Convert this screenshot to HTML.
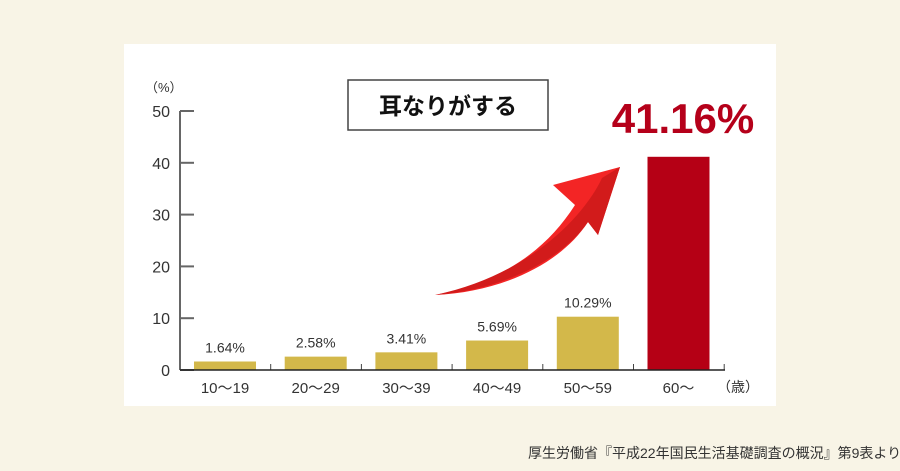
<!DOCTYPE html>
<html><head><meta charset="utf-8"><style>
body{margin:0;width:900px;height:471px;background:#f8f4e6;overflow:hidden;font-family:"Liberation Sans","Noto Sans CJK JP",sans-serif}
</style></head><body>
<svg width="900" height="471" style="position:absolute;left:0;top:0" font-family="Liberation Sans, Noto Sans CJK JP, sans-serif">
<rect x="124" y="44" width="652" height="362" fill="#fff"/>
<rect x="348" y="80" width="200" height="50" fill="#fff" stroke="#444" stroke-width="1.5"/>
<text x="448" y="114" text-anchor="middle" font-size="23" font-weight="bold" fill="#111">耳なりがする</text>
<text x="145" y="92" font-size="13" fill="#333">（%）</text>
<text x="738" y="392" text-anchor="middle" font-size="14" fill="#333">（歳）</text>
<path d="M435,295 C500,282 545,252 575,205 L553,185 L620,167 L598,235 L588,222 C560,265 500,292 435,295 Z" fill="#f32525"/>
<path d="M435,295 C500,290 560,262 588,222 L598,235 L620,167 L602,178 C585,215 530,275 435,295 Z" fill="#d21b1b"/>
<g id="g"></g>
<text x="683" y="133" text-anchor="middle" font-size="42" font-weight="bold" fill="#b5001a">41.16%</text>
<text x="528" y="458" font-size="14" fill="#333">厚生労働省『平成22年国民生活基礎調査の概況』第9表より</text>
</svg>
<script>
const categories=["10〜19","20〜29","30〜39","40〜49","50〜59","60〜"];
const values=[1.64,2.58,3.41,5.69,10.29,41.16];
const valueLabels=["1.64%","2.58%","3.41%","5.69%","10.29%",""];
const yTicks=[0,10,20,30,40,50];
const g=document.getElementById('g');const NS='http://www.w3.org/2000/svg';
const y0=370,y50=111,x0=180,step=90.7;
function y(v){return y0-(v/50)*(y0-y50);}
function xc(i){return x0+45+i*step;}
function mk(t,a){const e=document.createElementNS(NS,t);for(const k in a)e.setAttribute(k,a[k]);g.appendChild(e);return e;}
let ax=mk('line',{x1:x0,y1:y50,x2:x0,y2:y0,stroke:'#666','stroke-width':2});


yTicks.forEach(t=>{
 const l=mk('line',{x1:x0,x2:x0+14,y1:y(t),y2:y(t),stroke:'#666','stroke-width':2});
 
 
 const tx=mk('text',{x:x0-10,y:y(t)+6,'text-anchor':'end','font-size':16,fill:'#333'});tx.textContent=t;
 
 
});
values.forEach((v,i)=>{
 const r=mk('rect',{x:xc(i)-31,y:y(v),width:62,height:y0-y(v),fill:i==5?'#b50015':'#d3b84a'});
 
 
 if(valueLabels[i]){const t=mk('text',{x:xc(i),y:y(v)-9,'text-anchor':'middle','font-size':14,fill:'#333'});t.textContent=valueLabels[i];
 
 }
 const c=mk('text',{x:xc(i),y:y0+23,'text-anchor':'middle','font-size':15,fill:'#333'});c.textContent=categories[i];
 
 
 const s=mk('line',{x1:x0+(i+1)*step,x2:x0+(i+1)*step,y1:y0-6,y2:y0,stroke:'#444','stroke-width':1});
 
 
});
let xa=mk('line',{x1:x0,x2:725,y1:y0,y2:y0,stroke:'#222','stroke-width':1.5});


</script>
</body></html>
